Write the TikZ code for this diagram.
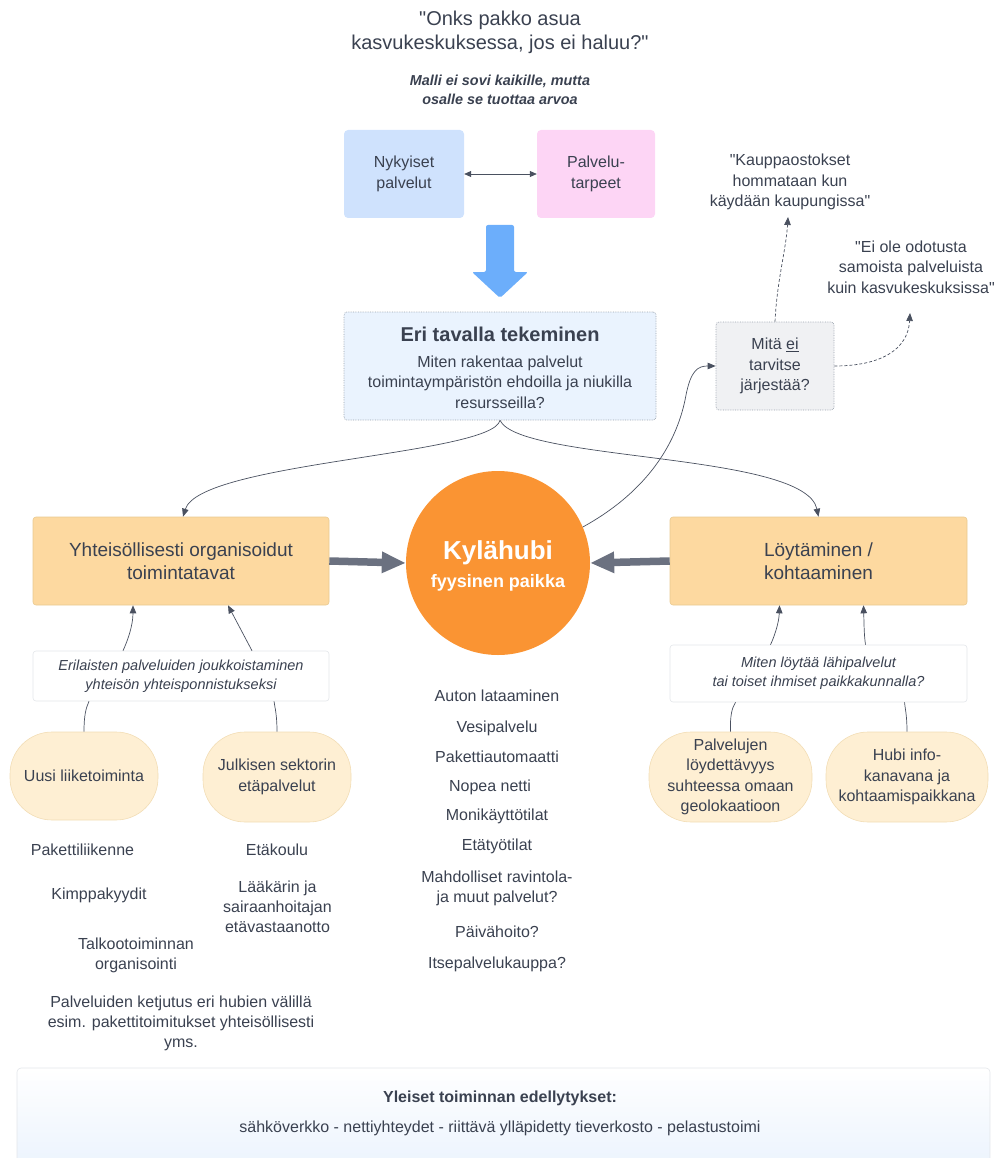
\documentclass[tikz,border=0pt]{standalone}
\usepackage{fontspec}
\setmainfont{Liberation Sans}[Ligatures=TeXOff]
\usetikzlibrary{arrows.meta,calc}
\definecolor{tc}{HTML}{3A4150}
\definecolor{blueF}{HTML}{CFE2FD}
\definecolor{pinkF}{HTML}{FDD5F5}
\definecolor{blueA}{HTML}{6CAEFB}
\definecolor{eriF}{HTML}{EAF3FE}
\definecolor{eriB}{HTML}{9AA3AE}
\definecolor{grayF}{HTML}{F0F1F3}
\definecolor{orF}{HTML}{FDD9A0}
\definecolor{orB}{HTML}{E9C990}
\definecolor{elF}{HTML}{FEEFD3}
\definecolor{elB}{HTML}{F2DDB5}
\definecolor{hubO}{HTML}{FA9433}
\definecolor{thickG}{HTML}{6B7180}
\definecolor{lineG}{HTML}{4A5160}
\definecolor{wB}{HTML}{E3E6EA}
\definecolor{botF}{HTML}{E9F2FD}
\newcommand\myfs[2]{\fontsize{#1}{#2}\selectfont}
\newcommand\dq{\char34\relax}
\begin{document}
\begin{tikzpicture}[x=1pt,y=-1pt,
  base/.style={text=tc, align=center, inner sep=0pt},
  body/.style={base, font=\myfs{16}{20.5}},
  small/.style={base, font=\myfs{14.5}{19}\itshape},
  listt/.style={base, font=\myfs{16}{20}},
  bigt/.style={base, font=\myfs{19}{23}},
  orbox/.style={body, bigt, fill=orF, draw=orB, line width=0.6pt, rounded corners=3pt, minimum width=296pt, minimum height=88pt},
  wbox/.style={small, fill=white, draw=wB, line width=0.6pt, rounded corners=3pt, minimum width=296pt},
  elbox/.style={body, fill=elF, draw=elB, line width=0.6pt, rounded corners=42pt},
  thin/.style={draw=lineG, line width=0.7pt},
  tarr/.style={thin, -{Triangle[length=8pt,width=6.5pt]}},
  darr/.style={thin, dash pattern=on 3pt off 2pt, -{Triangle[length=8pt,width=6.5pt]}},
  thickarr/.style={draw=thickG, line width=7.5pt, -{Triangle[length=24pt,width=20pt]}},
]
\useasboundingbox (0,0) rectangle (997,1158);

% title
\node[base, font=\myfs{20}{24}] (title) at (500,32) {\dq Onks pakko asua\\kasvukeskuksessa, jos ei haluu?\dq};
\node[base, font=\myfs{14.4}{19}\bfseries\itshape] (sub) at (500,90) {Malli ei sovi kaikille, mutta\\osalle se tuottaa arvoa};

% top boxes
\node[body, fill=blueF, rounded corners=4pt, minimum width=120pt, minimum height=88pt] (nyk) at (404,174) {Nykyiset\\palvelut};
\node[body, fill=pinkF, rounded corners=4pt, minimum width=118pt, minimum height=88pt] (pal) at (596,174) {Palvelu-\\tarpeet};
\draw[thin, {Triangle[length=7pt,width=6pt]}-{Triangle[length=7pt,width=6pt]}] (nyk.east) -- (pal.west);

% big blue arrow
\fill[blueA, rounded corners=2pt] (486,225) -- (514,225) -- (514,272) -- (528,272) -- (500,298) -- (472,272) -- (486,272) -- cycle;

% Eri tavalla tekeminen
\node[fill=eriF, draw=eriB, densely dotted, line width=0.7pt, rounded corners=3pt, minimum width=312pt, minimum height=108pt, inner sep=0pt] (eri) at (500,366) {};
\node[base, font=\myfs{20}{24}\bfseries] (eritit) at (500,334) {Eri tavalla tekeminen};
\node[body] (eritxt) at (500,382) {Miten rakentaa palvelut\\toimintaympäristön ehdoilla ja niukilla\\resursseilla?};

% Mita ei tarvitse
\node[body, fill=grayF, draw=eriB, densely dotted, line width=0.7pt, rounded corners=3pt, minimum width=118pt, minimum height=88pt] (mita) at (775,366) {Mitä \underline{ei}\\tarvitse\\järjestää?};

% quotes
\node[body] (q1) at (790,182) {\dq Kauppaostokset\\hommataan kun\\käydään kaupungissa\dq};
\node[body] (q2) at (911,267) {\dq Ei ole odotusta\\samoista palveluista\\kuin kasvukeskuksissa\dq};
\coordinate (q1tip) at (788,217);
\coordinate (q2tip) at (910,313);
\draw[darr] (mita.north) .. controls (777,280) and (786,250) .. (q1tip);
\draw[darr] (mita.east) .. controls (880,366) and (908,350) .. (q2tip);

% main row
\node[orbox] (yht) at (181,561) {Yhteisöllisesti organisoidut\\toimintatavat};
\node[orbox, minimum width=297pt] (loyt) at (818.5,561) {Löytäminen /\\kohtaaminen};
\node[circle, fill=hubO, minimum size=184pt, inner sep=0pt] (hub) at (498,563) {};
\node[base, text=white, font=\myfs{26}{30}\bfseries] (hubt) at (498,553) {Kylähubi};
\node[base, text=white, font=\myfs{18}{22}\bfseries] (hubs) at (498,583) {fyysinen paikka};

\draw[thickarr] (yht.east) -- (hub.west);
\draw[thickarr] (loyt.west) -- (hub.east);

% curves from Eri
\draw[tarr] (eri.south) .. controls (492,455) and (200,462) .. ([xshift=2pt]yht.north);
\draw[tarr] (eri.south) .. controls (520,462) and (805,452) .. (loyt.north);
\draw[tarr] (hub.23) .. controls (650,490) and (678,440) .. (686,395) .. controls (691,370) and (698,366) .. (mita.west);

% subboxes
\node[wbox, minimum height=50pt] (eril) at (181,676) {Erilaisten palveluiden joukkoistaminen\\yhteisön yhteisponnistukseksi};
\node[wbox, minimum width=297pt, minimum height=57pt] (miten) at (818.5,673.5) {Miten löytää lähipalvelut\\tai toiset ihmiset paikkakunnalla?};

\draw[tarr] ([xshift=-58pt]eril.north) .. controls (128,640) and (133,625) .. ([xshift=-48pt]yht.south);
\draw[tarr] ([xshift=71pt]eril.north) -- ([xshift=47pt]yht.south);
\draw[tarr] ([xshift=-48pt]miten.north) .. controls (775,635) and (779,622) .. ([xshift=-39pt]loyt.south);
\draw[tarr] ([xshift=47pt]miten.north) .. controls (864,635) and (864,622) .. ([xshift=45pt]loyt.south);

% ellipses
\node[elbox, minimum width=148pt, minimum height=88pt] (uusi) at (84,776) {Uusi liiketoiminta};
\node[elbox, minimum width=148pt, minimum height=90pt] (julk) at (277,777) {Julkisen sektorin\\etäpalvelut};
\node[elbox, minimum width=163pt, minimum height=90pt] (palv) at (730.5,777) {Palvelujen\\löydettävyys\\suhteessa omaan\\geolokaatioon};
\node[elbox, minimum width=162pt, minimum height=90pt] (hubi) at (907,777) {Hubi info-\\kanavana ja\\kohtaamispaikkana};

\draw[thin] (uusi.north) .. controls (84,715) and (86,708) .. ([xshift=-92pt]eril.south);
\draw[thin] (julk.north) .. controls (277,715) and (275,708) .. ([xshift=93pt]eril.south);
\draw[thin] (palv.north) .. controls (730,715) and (732,708) .. ([xshift=-83pt]miten.south);
\draw[thin] (hubi.north) .. controls (907,715) and (905,708) .. ([xshift=86pt]miten.south);

% left lists
\node[listt] (l1) at (82.5,850) {Pakettiliikenne};
\node[listt] (l2) at (99,895) {Kimppakyydit};
\node[listt] (l3) at (136,955) {Talkootoiminnan\\organisointi};
\node[listt] (l4) at (181,1023) {Palveluiden ketjutus eri hubien välillä\\esim. pakettitoimitukset yhteisöllisesti\\yms.};
\node[listt] (l5) at (277,850) {Etäkoulu};
\node[listt] (l6) at (277.5,907) {Lääkärin ja\\sairaanhoitajan\\etävastaanotto};

% centre list
\node[listt] (c1) at (497,696) {Auton lataaminen};
\node[listt] (c2) at (497,728) {Vesipalvelu};
\node[listt] (c3) at (497,757) {Pakettiautomaatti};
\node[listt] (c4) at (490,787) {Nopea netti};
\node[listt] (c5) at (497,816) {Monikäyttötilat};
\node[listt] (c6) at (497,846) {Etätyötilat};
\node[listt] (c7) at (497,888.5) {Mahdolliset ravintola-\\ja muut palvelut?};
\node[listt] (c8) at (497,932) {Päivähoito?};
\node[listt] (c9) at (497,964) {Itsepalvelukauppa?};

% bottom box
\shade[top color=white, bottom color=botF, draw=wB, line width=0.6pt, rounded corners=4pt] (17,1068) rectangle (990,1180);
\node[base, font=\myfs{16}{20}\bfseries] (botT) at (500,1098) {Yleiset toiminnan edellytykset:};
\node[body] (botS) at (500,1128) {sähköverkko - nettiyhteydet - riittävä ylläpidetty tieverkosto - pelastustoimi};
\end{tikzpicture}
\end{document}
